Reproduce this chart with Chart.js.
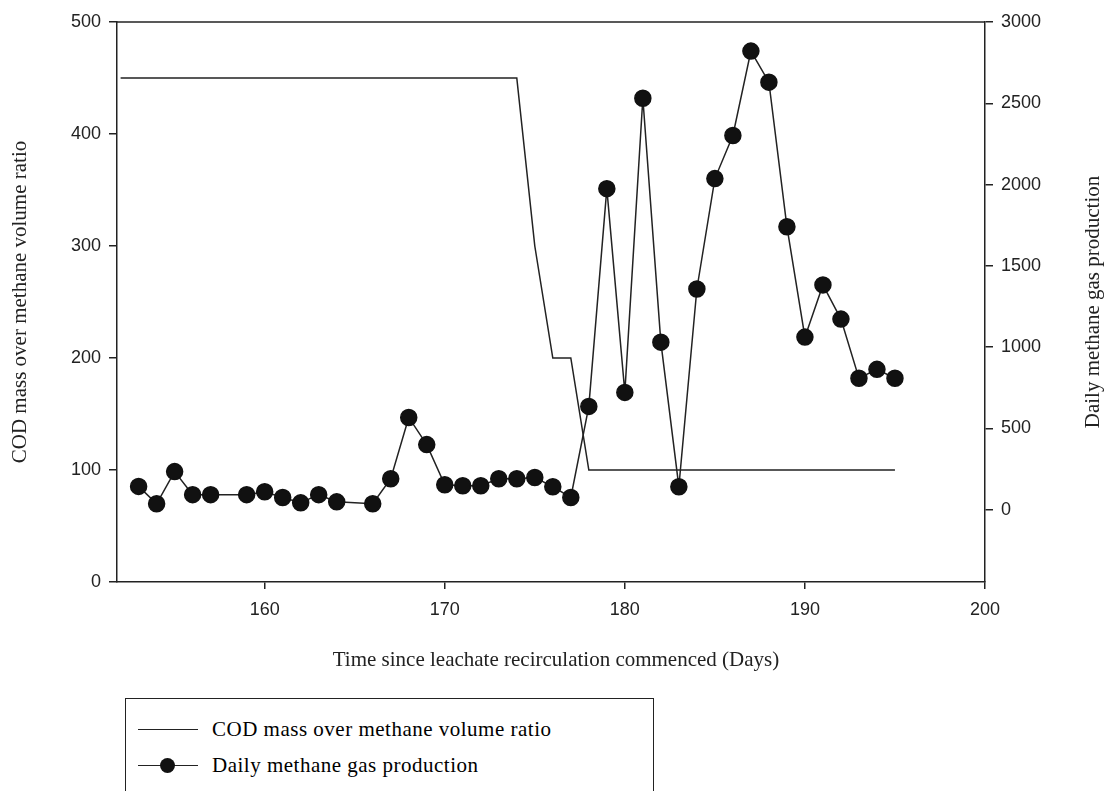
<!DOCTYPE html>
<html><head><meta charset="utf-8">
<script src="https://cdn.jsdelivr.net/npm/chart.js@4"></script>
<style>
body{margin:0;background:#fff;width:1109px;height:791px;overflow:hidden;position:relative}
#wrap{position:absolute;left:0;top:0;width:1109px;height:680px}
#legend{position:absolute;left:125px;top:698px;width:527px;height:110px;border:1.5px solid #222;font-family:"Liberation Serif",serif;font-size:21px;letter-spacing:0.5px}
.row{position:absolute;left:12px;height:20px;display:flex;align-items:center}
.ln{width:60px;height:0;border-top:1.5px solid #222;position:relative;margin-right:14px}
.dot{position:absolute;left:22px;top:-8px;width:15px;height:15px;border-radius:50%;background:#111}
</style></head><body>
<div id="wrap"><canvas id="c"></canvas></div>
<div id="legend">
 <div class="row" style="top:20px"><div class="ln"></div>COD mass over methane volume ratio</div>
 <div class="row" style="top:56px"><div class="ln"><div class="dot"></div></div>Daily methane gas production</div>
</div>
<script>
const codDays = [152, 174, 175, 176, 177, 178, 195];
const codRatio = [450, 450, 300, 200, 200, 100, 100];
const gasDays = [153,154,155,156,157,159,160,161,162,163,164,166,167,168,169,170,171,172,173,174,175,176,177,178,179,180,181,182,183,184,185,186,187,188,189,190,191,192,193,194,195];
const gasProd = [144,37,235,93,93,93,111,76,43,93,49,37,191,568,401,154,148,148,191,191,199,142,76,636,1975,722,2531,1031,142,1358,2037,2302,2821,2630,1741,1062,1383,1173,809,864,809];
const xTicks = [160,170,180,190,200];
const leftTicks = [0,100,200,300,400,500];
const rightTicks = [0,500,1000,1500,2000,2500,3000];

const tickFont = {family:'"Liberation Sans", Arial, sans-serif', size:18};
const titles = {
  id:'titles',
  afterDraw(ch){
    const c=ch.ctx, a=ch.chartArea;
    c.save();
    c.strokeStyle='#222'; c.lineWidth=1.5;
    c.beginPath(); c.moveTo(a.left,a.top); c.lineTo(a.right,a.top); c.stroke();
    c.fillStyle='#222'; c.font='21px "Liberation Serif", serif';
    c.textAlign='center'; c.textBaseline='middle';
    c.fillText('Time since leachate recirculation commenced (Days)', (a.left+a.right)/2+5, 660);
    c.translate(20,302); c.rotate(-Math.PI/2);
    c.fillText('COD mass over methane volume ratio',0,0);
    c.restore(); c.save();
    c.fillStyle='#222'; c.font='21px "Liberation Serif", serif';
    c.textAlign='center'; c.textBaseline='middle';
    c.translate(1093,302); c.rotate(-Math.PI/2);
    c.fillText('Daily methane gas production',0,0);
    c.restore();
  }
};
const setTicks = arr => s => { s.ticks = arr.map(v=>({value:v})); };
const plain = v => String(v);

new Chart(document.getElementById('c'), {
  type:'line',
  data:{datasets:[
    {data:codDays.map((d,i)=>({x:d,y:codRatio[i]})), yAxisID:'y', borderColor:'#222', borderWidth:1.5, pointRadius:0, tension:0},
    {data:gasDays.map((d,i)=>({x:d,y:gasProd[i]})), yAxisID:'y2', borderColor:'#222', borderWidth:1.5, pointRadius:8, pointBackgroundColor:'#111', pointBorderColor:'#111', tension:0}
  ]},
  options:{
    responsive:true, maintainAspectRatio:false, animation:false,
    layout:{padding:{top:22,bottom:0,left:0,right:0}},
    plugins:{legend:{display:false}, tooltip:{enabled:false}},
    scales:{
      x:{type:'linear', min:151.8, max:200, afterBuildTicks:setTicks(xTicks),
         afterFit(s){s.height=98;},
         border:{color:'#222',width:1.5},
         grid:{drawOnChartArea:false, tickLength:7, color:'#222', lineWidth:1.5},
         ticks:{font:tickFont, color:'#222', padding:10, maxRotation:0, callback:plain}},
      y:{position:'left', min:0, max:500, afterBuildTicks:setTicks(leftTicks),
         afterFit(s){s.width=117;},
         border:{color:'#222',width:1.5},
         grid:{drawOnChartArea:false, tickLength:8, color:'#222', lineWidth:1.5},
         ticks:{font:tickFont, color:'#222', padding:8, callback:plain}},
      y2:{position:'right', min:-444, max:3000, afterBuildTicks:setTicks(rightTicks),
         afterFit(s){s.width=124;},
         border:{color:'#222',width:1.5},
         grid:{drawOnChartArea:false, tickLength:8, color:'#222', lineWidth:1.5},
         ticks:{font:tickFont, color:'#222', padding:8, callback:plain}}
    }
  },
  plugins:[titles]
});
</script>
</body></html>
